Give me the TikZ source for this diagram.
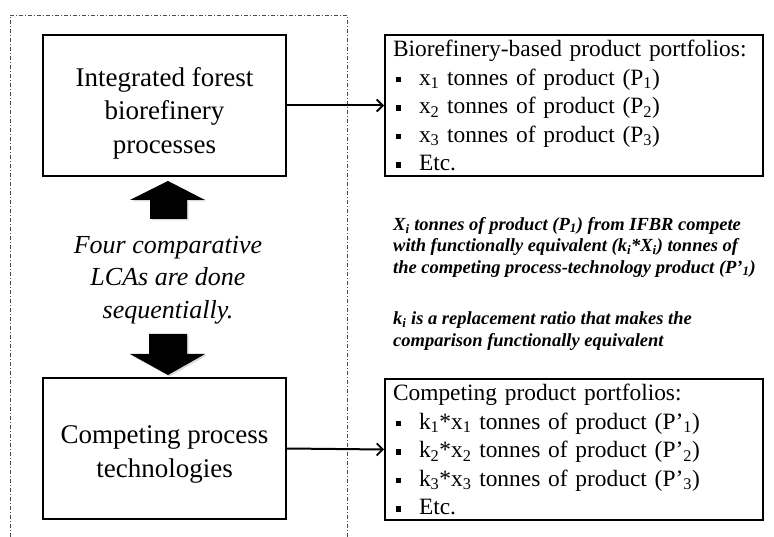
\documentclass[tikz,border=0pt]{standalone}
\usepackage{amsmath}
\usepackage{fontspec}
\setmainfont{Liberation Serif}[BoldFont={Liberation Serif Bold},ItalicFont={Liberation Serif Italic},BoldItalicFont={Liberation Serif Bold Italic}]
\usetikzlibrary{arrows.meta,shadows}

\newcommand{\sqbul}{\makebox[26pt][l]{\hspace{2.5pt}\rule[3pt]{5.5pt}{5.5pt}}}
\newcommand{\sbs}[1]{$_{\text{#1}}$}

\begin{document}
\begin{tikzpicture}[x=1pt,y=-1pt,
  procbox/.style={draw,line width=2pt,minimum width=243pt,minimum height=141pt,align=center,
    font=\fontsize{27}{33.5}\selectfont},
  listbox/.style={draw,line width=2pt,minimum width=378pt,minimum height=141pt,text width=362pt,
    inner xsep=8pt,align=left,font=\fontsize{23.4}{28.5}\selectfont},
  notetext/.style={anchor=west,align=left,inner sep=0pt,font=\fontsize{18.5}{21.5}\selectfont\bfseries\itshape},
  blockarrow/.style={fill=black,drop shadow={opacity=.3,shadow xshift=1.5pt,shadow yshift=-1.5pt}},
  link/.style={line width=2pt,-{Straight Barb[length=6pt,width=12pt,line width=1.8pt]}}]
\useasboundingbox (0,0) rectangle (774,537);
\draw[gray!60!black,dash pattern=on 4pt off 2pt on 1pt off 2pt] (10,537) -- (10,15) -- (347,15) -- (347,537);
\node[procbox] (ifbr) at (164.5,105.5) {\rule{0pt}{34pt}Integrated forest\\biorefinery\\processes};
\node[procbox] (comp) at (164.5,448.5) {\rule{0pt}{30pt}Competing process\\technologies};
\node[align=center,font=\fontsize{26}{32.5}\selectfont\itshape] (lca) at (168,280) {Four comparative\\LCAs are done\\sequentially.};
\node[listbox] (bioport) at (574,105.5) {Biorefinery-based product portfolios:\\
  \sqbul x\sbs{1} tonnes of product (P\sbs{1})\\
  \sqbul x\sbs{2} tonnes of product (P\sbs{2})\\
  \sqbul x\sbs{3} tonnes of product (P\sbs{3})\\
  \sqbul Etc.};
\node[listbox] (compport) at (574,449.5) {Competing product portfolios:\\
  \sqbul k\sbs{1}*x\sbs{1} tonnes of product (P’\sbs{1})\\
  \sqbul k\sbs{2}*x\sbs{2} tonnes of product (P’\sbs{2})\\
  \sqbul k\sbs{3}*x\sbs{3} tonnes of product (P’\sbs{3})\\
  \sqbul Etc.};
\node[notetext] (compete) at (393,247) {X\sbs{i} tonnes of product (P\sbs{1}) from IFBR compete\\
  with functionally equivalent (k\sbs{i}*X\sbs{i}) tonnes of\\
  the competing process-technology product (P’\sbs{1})};
\node[notetext] (ratio) at (393,331) {k\sbs{i} is a replacement ratio that makes the\\
  comparison functionally equivalent};
\draw[link] (ifbr.east) -- (bioport.west);
\draw[link] (comp.east) -- (compport.west);
\fill[blockarrow] (150,219) -- (150,200) -- (130,200) -- (168,181) -- (205,200) -- (187,200) -- (187,219) -- cycle;
\fill[blockarrow] (149,334) -- (149,354) -- (130,354) -- (168,375) -- (205,354) -- (187,354) -- (187,334) -- cycle;
\end{tikzpicture}
\end{document}
